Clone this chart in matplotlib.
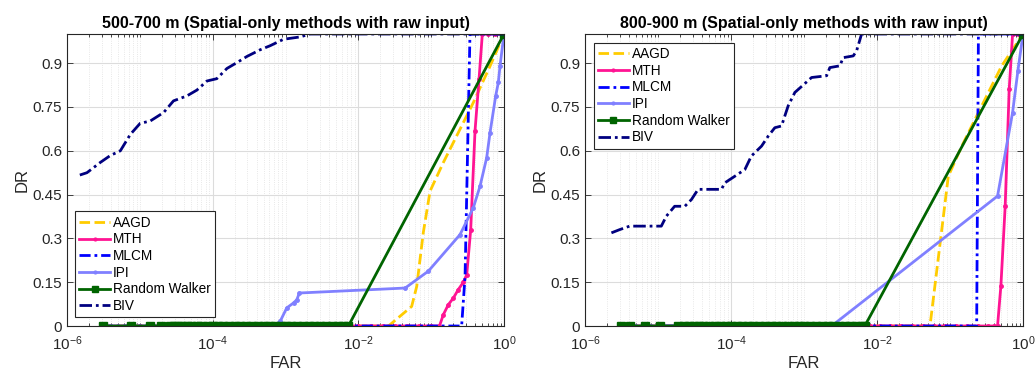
import math
import matplotlib
matplotlib.use("Agg")
import matplotlib.pyplot as plt
from matplotlib.ticker import FixedLocator, FuncFormatter

plt.rcParams['font.family'] = ['Liberation Sans', 'DejaVu Sans']
plt.rcParams['mathtext.fontset'] = 'custom'
plt.rcParams['mathtext.rm'] = 'Liberation Sans'
plt.rcParams['mathtext.default'] = 'regular'

# ---- data: left panel 500-700 m ----
l_biv_x = [1.5e-6, 1.88e-6, 2.86e-6, 3.94e-6, 5.4e-6, 7.4e-6, 1.01e-5, 1.39e-5, 2.12e-5, 2.9e-5,
           4.43e-5, 6.08e-5, 8.34e-5, 1.14e-4, 1.57e-4, 2.15e-4, 2.95e-4, 4.49e-4, 6.17e-4, 9.4e-4,
           1.59e-3, 2.18e-3, 1.0]
l_biv_y = [0.517, 0.525, 0.56, 0.584, 0.60, 0.656, 0.694, 0.702, 0.731, 0.771,
           0.788, 0.808, 0.839, 0.847, 0.882, 0.902, 0.923, 0.946, 0.96, 0.982,
           0.99, 1.0, 1.0]
l_aagd_x = [3e-6, 2.59e-2, 5.4e-2, 6.34e-2, 7.8e-2, 9.66e-2, 0.147, 0.249, 0.379, 0.643, 1.0]
l_aagd_y = [0, 0, 0.067, 0.136, 0.32, 0.462, 0.56, 0.674, 0.765, 0.89, 1.0]
l_mth_x = [3e-6, 1e-5, 1e-4, 1e-3, 1e-2, 1.5e-2, 2.2e-2, 3.2e-2, 4.6e-2, 6.8e-2, 0.1, 0.13,
           0.147, 0.172, 0.202, 0.236, 0.277, 0.308, 0.349, 0.40, 0.454, 0.504, 0.6, 0.75, 1.0]
l_mth_y = [0, 0, 0, 0, 0, 0, 0, 0, 0, 0, 0, 0,
           0.039, 0.073, 0.096, 0.125, 0.15, 0.176, 0.33, 0.668, 0.845, 1.0, 1.0, 1.0, 1.0]
l_mlcm_x = [3e-6, 0.262, 0.292, 0.341, 1.0]
l_mlcm_y = [0, 0, 0.17, 1.0, 1.0]
l_ipi_x = [3e-6, 1e-4, 6.9e-4, 8.45e-4, 1.04e-3, 1.29e-3, 1.43e-3, 1.55e-3, 4.39e-2, 9.16e-2,
           0.249, 0.379, 0.469, 0.578, 0.643, 0.769, 0.836, 0.881, 1.0]
l_ipi_y = [0, 0, 0, 0.016, 0.062, 0.079, 0.09, 0.113, 0.13, 0.188,
           0.313, 0.405, 0.479, 0.576, 0.662, 0.788, 0.834, 0.89, 1.0]
l_rw_x = [3.1e-6, 7.6e-6, 1.4e-5, 1.95e-5, 2.6e-5, 2.9e-5, 3.3e-5, 3.8e-5, 4.4e-5, 5e-5,
          6e-5, 7e-5, 8.5e-5, 1e-4, 1.2e-4, 1.4e-4, 1.7e-4, 2e-4, 2.4e-4, 2.9e-4,
          3.5e-4, 4.2e-4, 5e-4, 6e-4, 7.2e-4, 8.6e-4, 1e-3, 1.2e-3, 1.45e-3, 1.75e-3,
          2.1e-3, 2.5e-3, 3e-3, 3.6e-3, 4.3e-3, 5.2e-3, 6.2e-3, 7.3e-3, 1.0]
l_rw_y = [0] * 38 + [1.0]

# ---- data: right panel 800-900 m ----
r_biv_x = [2.3e-6, 2.98e-6, 4.09e-6, 1.11e-5, 1.3e-5, 1.69e-5, 2.33e-5, 2.87e-5, 3.54e-5, 7.4e-5,
           8.2e-5, 1.13e-4, 1.55e-4, 1.9e-4, 2.62e-4, 3.23e-4, 3.98e-4, 4.92e-4, 6.07e-4, 7.5e-4,
           9.24e-4, 1.27e-3, 2.04e-3, 2.26e-3, 3.1e-3, 3.44e-3, 4.73e-3, 5.25e-3, 6.15e-3, 1.0]
r_biv_y = [0.319, 0.33, 0.342, 0.342, 0.376, 0.41, 0.41, 0.433, 0.468, 0.468,
           0.49, 0.513, 0.536, 0.582, 0.616, 0.65, 0.679, 0.685, 0.754, 0.80,
           0.82, 0.851, 0.857, 0.885, 0.891, 0.919, 0.925, 0.942, 1.0, 1.0]
r_aagd_x = [3e-6, 5.32e-2, 9.48e-2, 0.145, 0.272, 0.511, 1.0]
r_aagd_y = [0, 0, 0.513, 0.616, 0.754, 0.891, 1.0]
r_mth_x = [3e-6, 1e-5, 1e-4, 1e-3, 8e-3, 1.1e-2, 1.5e-2, 2.1e-2, 3e-2, 4.3e-2, 6e-2, 8.5e-2,
           0.12, 0.17, 0.24, 0.33, 0.40, 0.448, 0.498, 0.57, 0.647, 0.72, 0.85, 1.0]
r_mth_y = [0] * 18 + [0.138, 0.41, 0.81, 1.0, 1.0, 1.0]
r_mlcm_x = [3e-6, 0.232, 0.245, 1.0]
r_mlcm_y = [0, 0, 1.0, 1.0]
r_ipi_x = [3e-6, 2.39e-3, 0.448, 0.72, 0.851, 1.0]
r_ipi_y = [0, 0, 0.445, 0.731, 0.874, 1.0]
r_rw_x = [3.1e-6, 4.1e-6, 6.6e-6, 1.06e-5, 1.88e-5, 2.3e-5, 2.7e-5, 3.1e-5, 3.6e-5, 4.2e-5,
          5e-5, 6e-5, 7e-5, 8.5e-5, 1e-4, 1.2e-4, 1.4e-4, 1.7e-4, 2e-4, 2.4e-4,
          2.9e-4, 3.5e-4, 4.2e-4, 5e-4, 6e-4, 7.2e-4, 8.6e-4, 1e-3, 1.2e-3, 1.45e-3,
          1.75e-3, 2.1e-3, 2.5e-3, 3e-3, 3.6e-3, 4.3e-3, 5.2e-3, 6.2e-3, 6.8e-3, 1.0]
r_rw_y = [0] * 39 + [1.0]

titles = ['500-700 m (Spatial-only methods with raw input)',
          '800-900 m (Spatial-only methods with raw input)']
y_ticks = [0, 0.15, 0.3, 0.45, 0.6, 0.75, 0.9]
y_labels = ['0', '0.15', '0.3', '0.45', '0.6', '0.75', '0.9']
x_ticks = [1e-6, 1e-4, 1e-2, 1]

c_aagd = '#FFCC00'
c_mth = '#FF1493'
c_mlcm = '#0000FF'
c_ipi = '#8080FF'
c_rw = '#006400'
c_biv = '#000080'
gray = '#262626'

fig = plt.figure(figsize=(10.35, 3.7), dpi=100)
ax1 = fig.add_axes([67 / 1035, 44 / 370, 437 / 1035, 292 / 370])
ax2 = fig.add_axes([585 / 1035, 44 / 370, 438 / 1035, 292 / 370])


def draw(ax, d, title, loc, anchor):
    aagd, mth, mlcm, ipi, rw, biv = d
    ax.plot(*aagd, ls=(0, (3.8, 1.6)), color=c_aagd, lw=2, label='AAGD')
    ax.plot(*mth, '-', color=c_mth, lw=2, marker='.', ms=5, label='MTH')
    ax.plot(*mlcm, ls=(0, (4, 1.4, 1, 1.4)), color=c_mlcm, lw=2, label='MLCM')
    ax.plot(*ipi, '-', color=c_ipi, lw=2, marker='.', ms=5, label='IPI')
    ax.plot(*rw, '-', color=c_rw, lw=2, marker='s', ms=5.5, label='Random Walker')
    ax.plot(*biv, ls=(0, (4.5, 1.4, 1, 1.4)), color=c_biv, lw=2, label='BIV')
    ax.set_xscale('log')
    ax.set_xlim(1e-6, 1)
    ax.set_ylim(0, 1.0)
    ax.xaxis.set_major_locator(FixedLocator(x_ticks))
    minors = []
    for e in range(-6, 0):
        for k in range(1, 10):
            if k == 1 and e % 2 == 0:
                continue
            minors.append(k * 10.0 ** e)
    ax.xaxis.set_minor_locator(FixedLocator(minors))
    ax.xaxis.set_minor_formatter(FuncFormatter(lambda v, p: ''))
    ax.xaxis.set_major_formatter(FuncFormatter(
        lambda v, p: '$10^{%d}$' % round(math.log10(v))))
    ax.set_yticks(y_ticks)
    ax.set_yticklabels(y_labels)
    ax.tick_params(which='both', direction='in', top=True, right=True,
                   colors=gray, labelsize=11, width=0.6)
    ax.tick_params(which='major', length=4)
    ax.tick_params(which='minor', length=2)
    ax.tick_params(axis='x', pad=6)
    ax.grid(which='major', color='#dcdcdc', lw=0.8, ls='-')
    ax.grid(which='minor', axis='x', color='#e0e0e0', lw=0.6, ls=':')
    ax.set_axisbelow(True)
    for s in ax.spines.values():
        s.set_color(gray)
        s.set_linewidth(0.8)
    ax.set_title(title, fontsize=11.5, fontweight='bold', pad=4)
    ax.set_xlabel('FAR', fontsize=12, color=gray, labelpad=2)
    ax.set_ylabel('DR', fontsize=12, color=gray, labelpad=2)
    leg = ax.legend(loc=loc, bbox_to_anchor=anchor, fontsize=9.8, numpoints=1,
                    handlelength=2.3, handletextpad=0.2, labelspacing=0.2,
                    borderpad=0.3, borderaxespad=0, fancybox=False,
                    edgecolor=gray, framealpha=1, markerscale=0.8)
    leg.get_frame().set_linewidth(0.8)


draw(ax1, [(l_aagd_x, l_aagd_y), (l_mth_x, l_mth_y), (l_mlcm_x, l_mlcm_y),
           (l_ipi_x, l_ipi_y), (l_rw_x, l_rw_y), (l_biv_x, l_biv_y)],
     titles[0], 'lower left', (0.018, 0.03))
draw(ax2, [(r_aagd_x, r_aagd_y), (r_mth_x, r_mth_y), (r_mlcm_x, r_mlcm_y),
           (r_ipi_x, r_ipi_y), (r_rw_x, r_rw_y), (r_biv_x, r_biv_y)],
     titles[1], 'upper left', (0.02, 0.97))

fig.savefig('out.png', dpi=100)
